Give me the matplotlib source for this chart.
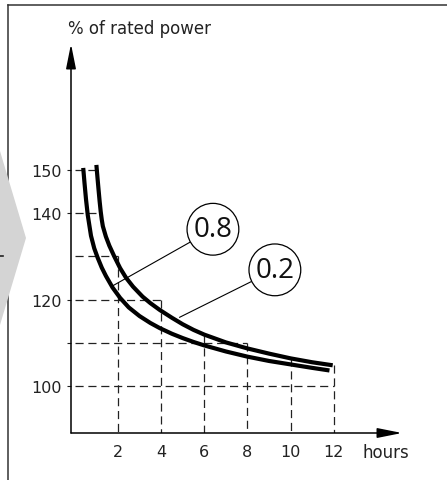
import matplotlib
matplotlib.use("Agg")
import matplotlib.pyplot as plt
from matplotlib.lines import Line2D
from matplotlib.patches import Polygon

# ---------------- data ----------------
hours_08 = [0.39, 0.45, 0.52, 0.6, 0.75, 0.9, 1.06, 1.25, 1.44, 1.75, 2.1, 2.5,
            3.0, 3.5, 3.94, 4.5, 5.0, 5.5, 6.0, 7.0, 8.0, 9.0, 10.0, 11.0, 11.8]
power_08 = [150.5, 147.0, 143.2, 139.6, 134.8, 131.9, 129.7, 127.4, 125.5, 122.8,
            120.4, 118.2, 116.2, 114.6, 113.4, 112.1, 111.1, 110.2, 109.4, 108.0,
            106.8, 105.8, 105.0, 104.2, 103.6]

hours_02 = [1.0, 1.05, 1.1, 1.15, 1.2, 1.25, 1.3, 1.44, 1.6, 1.83, 2.1, 2.37, 2.7,
            3.14, 3.5, 3.94, 4.5, 5.0, 5.5, 6.0, 7.0, 8.0, 9.0, 10.0, 11.0, 11.95]
power_02 = [151.2, 148.3, 145.5, 142.8, 140.4, 138.5, 137.0, 134.6, 132.5, 130.0,
            127.3, 125.1, 123.0, 120.7, 119.2, 117.6, 115.8, 114.3, 113.0, 111.9,
            110.1, 108.7, 107.5, 106.4, 105.5, 104.8]

# dashed guide lines
h_guide_levels = [150, 140, 130, 120, 110, 100]
h_guide_ends = [1.0, 1.2, 2, 4, 8, 12]
v_guide_hours = [2, 4, 6, 8, 10, 12]
v_guide_tops = [130, 120, 111.9, 110, 106.4, 104.8]

x_ticks = [2, 4, 6, 8, 10, 12]
y_ticks = [100, 110, 120, 140, 150]
y_tick_labels = ["100", "", "120", "140", "150"]

labels = ["0.8", "0.2"]
label_points = [(1.72, 123.1), (4.85, 115.9)]
label_centers = [(6.4, 136.3), (9.27, 126.9)]

# ---------------- figure ----------------
W, H = 447, 481
fig = plt.figure(figsize=(W / 100, H / 100), dpi=100)
fig.patch.set_facecolor("white")


def P(x, y):
    return (x / W, 1 - y / H)


# page frame and grey chevron on the left
fig.add_artist(Line2D([P(8, 6)[0], P(8, 481)[0]], [P(8, 6)[1], P(8, 481)[1]],
                      transform=fig.transFigure, color="#333333", lw=1.1, zorder=1))
fig.add_artist(Line2D([P(8, 6)[0], P(447, 6)[0]], [P(8, 6)[1], P(447, 6)[1]],
                      transform=fig.transFigure, color="#333333", lw=1.1, zorder=1))
fig.add_artist(Polygon([P(0, 152), P(26, 239), P(0, 326)], closed=True,
                       transform=fig.transFigure, fc="#d4d4d4", ec="none", zorder=2))
fig.add_artist(Line2D([P(0, 257)[0], P(3, 257)[0]], [P(0, 257)[1], P(3, 257)[1]],
                      transform=fig.transFigure, color="#222222", lw=1.2, zorder=3))

# axes placed so that the y axis is at x=71px and x axis at y=434px
left, right, top, bottom = 71, 402, 45, 434
ax = fig.add_axes([left / W, 1 - bottom / H, (right - left) / W, (bottom - top) / H])
ax.set_xlim(-0.176, 15.16)
ax.set_ylim(89.12, 179.2)
ax.set_facecolor("none")
for s in ax.spines.values():
    s.set_visible(False)

# axis arrows
arrow_kw = dict(arrowstyle="-|>,head_length=1.5,head_width=0.3", lw=1.1,
                color="black", mutation_scale=10, shrinkA=0, shrinkB=0)
ax.annotate("", xy=(0, 1), xytext=(0, 0), xycoords="axes fraction",
            arrowprops=arrow_kw, annotation_clip=False)
ax.annotate("", xy=(1, 0), xytext=(0, 0), xycoords="axes fraction",
            arrowprops=arrow_kw, annotation_clip=False)

# dashed guides
dash_kw = dict(color="#222222", lw=0.9, dashes=(6.5, 3.8), zorder=2)
for lvl, end in zip(h_guide_levels, h_guide_ends):
    ax.plot([0, end], [lvl, lvl], **dash_kw)
for hx, topv in zip(v_guide_hours, v_guide_tops):
    ax.plot([hx, hx], [topv, ax.get_ylim()[0]], **dash_kw)

# curves
ax.plot(hours_08, power_08, color="black", lw=3.0, solid_capstyle="butt",
        solid_joinstyle="round", zorder=4)
ax.plot(hours_02, power_02, color="black", lw=3.0, solid_capstyle="butt",
        solid_joinstyle="round", zorder=4)

# circled labels
for lab, pt, ctr in zip(labels, label_points, label_centers):
    ax.annotate(lab, xy=pt, xytext=ctr, ha="center", va="center",
                fontsize=20, family=["Open Sans", "DejaVu Sans"], color="#111111",
                bbox=dict(boxstyle="circle,pad=0.23", fc="white", ec="black", lw=0.9),
                arrowprops=dict(arrowstyle="-", lw=0.8, color="black",
                                shrinkA=0, shrinkB=0),
                zorder=5)

# ticks
ax.set_xticks(x_ticks)
ax.set_xticklabels([str(t) for t in x_ticks])
ax.set_yticks(y_ticks)
ax.set_yticklabels(y_tick_labels)
ax.tick_params(axis="x", length=0, pad=8, labelsize=11.5, labelcolor="#222222")
ax.tick_params(axis="y", length=3, width=0.8, direction="out", pad=3.6,
               labelsize=11.5, labelcolor="#222222", color="#222222")
for lab in ax.get_xticklabels() + ax.get_yticklabels():
    lab.set_family("DejaVu Sans")

# axis titles
fig.text(*P(68, 29), "% of rated power", ha="left", va="center",
         fontsize=12, family="DejaVu Sans", color="#222222")
fig.text(*P(363, 453), "hours", ha="left", va="center",
         fontsize=12, family="DejaVu Sans", color="#222222")

fig.savefig("out.png", dpi=100, facecolor="white")
